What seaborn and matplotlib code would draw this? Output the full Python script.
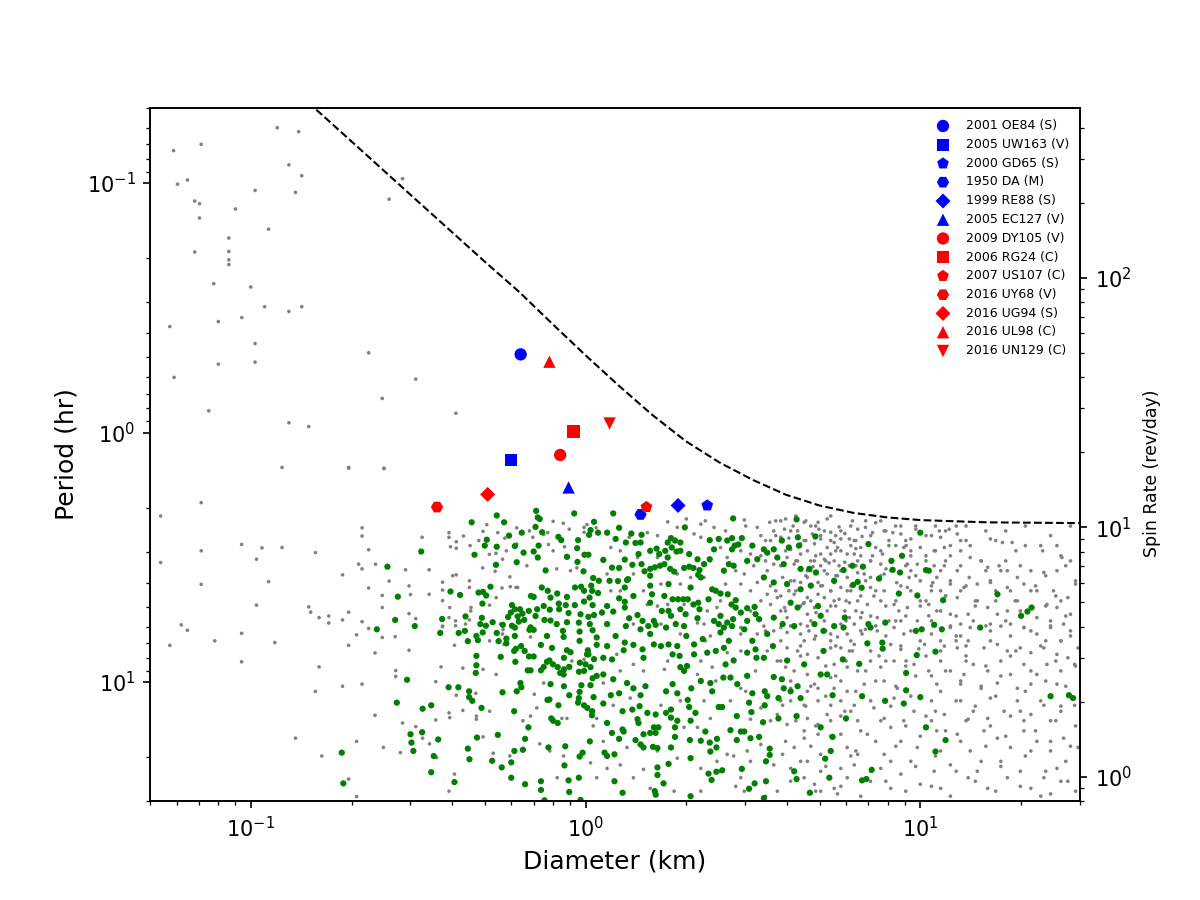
import matplotlib
matplotlib.use("Agg")
import matplotlib.pyplot as plt
import seaborn as sns

# ---------------- data (diameter km, period hr) ----------------
# spin-barrier curve
barrier_d = [0.157, 0.1995, 0.251, 0.316, 0.398, 0.501, 0.631, 0.794, 1.0, 1.259, 1.585,
             1.995, 2.512, 3.162, 3.981, 5.012, 6.31, 7.943, 10.0, 15.85, 30.0]
barrier_p = [0.0508, 0.0679, 0.0897, 0.1186, 0.1567, 0.207, 0.2716, 0.3656, 0.49, 0.650, 0.851,
             1.084, 1.318, 1.549, 1.778, 1.963, 2.099, 2.188, 2.244, 2.291, 2.307]

# highlighted objects
obj_names = ["2001 OE84 (S)", "2005 UW163 (V)", "2000 GD65 (S)", "1950 DA (M)", "1999 RE88 (S)",
             "2005 EC127 (V)", "2009 DY105 (V)", "2006 RG24 (C)", "2007 US107 (C)", "2016 UY68 (V)",
             "2016 UG94 (S)", "2016 UL98 (C)", "2016 UN129 (C)"]
obj_diam = [0.64, 0.60, 2.31, 1.46, 1.89, 0.89, 0.84, 0.92, 1.52, 0.36, 0.51, 0.78, 1.18]
obj_period = [0.486, 1.29, 1.96, 2.13, 1.96, 1.66, 1.23, 0.99, 1.99, 1.99, 1.77, 0.52, 0.92]
obj_color = ["b", "b", "b", "b", "b", "b", "r", "r", "r", "r", "r", "r", "r"]
obj_marker = ["o", "s", "p", "H", "D", "^", "o", "s", "p", "H", "D", "^", "v"]

# green population
green_a = [(0.323,3.0),(0.256,3.45),(0.275,4.55),(0.27,5.64),(0.238,6.15),(0.309,5.97),(0.373,5.59),
    (0.368,6.36),(0.395,4.34),(0.293,9.8),(0.39,10.5),(0.273,12.1),(0.326,12.8),(0.346,12.4),(0.325,15.9),
    (0.30,16.2),(0.302,17.5),(0.306,18.9),(0.363,17.0),(0.352,19.8),(0.346,23.0),(0.187,19.2),(0.189,25.5)]
green_b = [(0.543,2.15),(0.571,2.29),(0.457,2.29),(0.712,2.06),(0.72,2.19),(0.73,2.22),(0.925,2.11),
    (1.06,2.28),(0.507,2.69),(0.5,2.84),(0.543,2.87),(0.591,2.59),(0.645,2.52),(0.615,2.85),(0.709,2.39),
    (0.742,2.51),(0.83,2.62),(0.846,2.7),(0.95,2.7),(1.035,2.46),(1.025,2.57),(1.09,2.52),(0.466,3.09),
    (0.54,3.39),(0.623,3.31),(0.653,3.03),(0.70,3.0),(0.724,2.84),(0.72,3.17),(0.944,2.91),(0.993,3.09),
    (1.02,3.09),(0.88,3.15),(0.946,3.3),(0.76,3.57),(0.986,3.6),(1.054,3.83),(1.096,3.93),(0.52,4.15),
    (0.494,4.35),(0.479,4.38),(0.505,4.5),(0.492,4.85),(0.422,4.48),(0.74,4.18),(0.687,4.52),
    (0.70,4.56),(0.771,4.31),(0.823,4.42),(0.88,4.56),(0.93,4.18),(0.97,4.15),(0.99,4.31),(1.04,4.11),
    (1.047,4.31),(1.028,4.59),(1.09,4.4),(0.786,4.59),(0.832,4.85),(0.75,4.96),(0.873,4.92),(0.929,4.92),
    (0.99,4.76),(1.05,4.92),(0.603,4.92),(0.615,5.11),(0.598,5.27),(0.637,5.11),(0.648,5.32),(0.677,5.19),
    (0.717,5.11),(0.782,5.13),(0.834,5.11),(0.89,5.29),(0.966,5.35),(1.02,5.48),(1.06,5.39),(0.438,5.46),
    (0.49,5.53),(0.528,5.76),(0.485,5.86),(0.504,5.95),(0.587,5.49),(0.627,5.46),(0.656,5.64),(0.709,5.44),
    (0.754,5.64),(0.786,5.67),(0.82,5.86),(0.88,5.76),(0.955,5.78),(1.03,5.86),(0.632,5.73),(0.603,5.95),
    (0.685,6.04)]
green_c = [(0.418,6.36),(0.436,6.24),(0.445,6.86),(0.472,6.54),(0.477,6.8),(0.493,6.33),(0.543,6.36),
    (0.55,6.86),(0.566,5.9),(0.58,6.7),(0.58,7.0),(0.615,6.54),(0.615,6.05),(0.62,7.36),(0.612,7.51),
    (0.642,7.18),(0.658,7.51),(0.68,6.18),(0.70,6.18),(0.678,7.9),(0.70,7.9),(0.736,7.1),(0.767,6.54),
    (0.794,7.3),(0.856,6.24),(0.86,6.6),(0.862,8.0),(0.902,7.6),(0.88,7.46),(0.96,6.28),(0.96,6.84),
    (1.016,7.46),(1.01,7.75),(1.05,6.2),(1.08,6.63),(1.08,7.1),(0.472,7.86),(0.472,8.57),(0.47,9.2),
    (0.558,7.93),(0.617,8.3),(0.672,8.98),(0.685,8.98),(0.736,8.98),(0.75,8.7),(0.767,8.3),(0.78,8.2),
    (0.8,8.5),(0.826,8.72),(0.84,9.2),(0.86,9.33),(0.862,8.9),(0.894,8.7),(0.962,8.37),(0.956,9.1),
    (0.99,9.03),(1.0,8.5),(1.035,8.72),(1.08,9.45),(1.02,7.75),(1.06,8.1),(0.786,10.2),(0.862,10.4),
    (0.972,10.3),(1.035,10.3),(1.05,9.66),(0.639,10.1),(0.643,10.5),(0.623,10.9),(0.565,11.0),(0.417,10.5),
    (0.449,10.9),(0.449,11.5),(0.459,11.9),(0.489,12.7),(0.612,13.1),(0.675,15.2),(0.66,16.9),(0.613,18.9),
    (0.65,18.7),(0.60,21.0),(0.60,24.2),(0.66,25.7),(0.736,25.0),(0.736,27.1),(0.775,18.3),(0.562,22.0),
    (0.526,20.7),(0.547,16.3),(0.474,16.7),(0.445,18.5),(0.45,20.4),(0.406,25.2),(0.78,11.75),(0.79,14.0),
    (0.80,14.3),(0.826,14.6),(0.77,11.8),(0.83,12.4),(0.894,11.3),(0.96,10.95),(0.955,11.6),(0.95,12.1),
    (0.99,12.4),(1.012,12.7),(1.047,13.1),(1.045,13.6),(1.057,11.5),(1.03,17.3),(0.87,18.1),(0.98,19.2),
    (0.96,19.9),(0.865,21.6),(0.955,24.2),(0.89,24.8),(0.894,27.6),(0.966,29.7),(0.754,29.8)]
green_d = [(1.21,2.11),(2.76,2.21),(4.27,2.23),(1.16,2.52),(1.23,2.67),(1.26,2.41),(1.32,2.76),(1.37,2.54),
    (1.41,2.77),(1.47,2.57),(1.46,2.76),(1.44,3.07),(1.31,3.23),(1.13,3.24),(1.2,3.48),(1.26,3.49),(1.18,3.93),
    (1.25,3.94),(1.31,4.18),(1.34,3.87),(1.38,3.39),(1.47,3.37),(1.5,3.6),(1.56,3.75),(1.56,3.52),(1.61,3.47),
    (1.67,3.42),(1.56,2.98),(1.63,2.92),(1.66,3.07),(1.73,2.98),(1.76,2.76),(1.8,2.65),(1.85,2.71),(1.81,2.89),
    (1.87,3.0),(1.92,2.76),(1.92,2.98),(1.98,2.4),(2.04,3.07),(1.76,3.17),(1.72,3.37),(1.79,3.52),(1.84,3.61),
    (1.97,3.49),(2.04,3.45),(2.16,3.22),(2.1,3.49),(2.19,3.56),(2.26,3.37),(2.35,2.7),(2.42,2.94),(2.35,3.22),
    (2.21,3.81),(2.17,3.72),(2.06,4.18),(1.77,4.05),(1.72,4.52),(1.82,4.66),(1.89,4.66),(1.96,4.66),(2.02,4.66),
    (1.58,4.45),(1.56,4.11),(1.39,4.52),(1.33,3.9),(1.26,4.62),(1.16,4.96),(1.21,5.22),(1.31,4.77),(1.31,5.03),
    (1.35,5.55),(1.43,5.39),(1.48,5.69),(1.54,5.97),(1.6,5.69),(1.69,5.19),(1.77,5.19),(1.8,5.43),(1.92,5.11),
    (1.99,5.35),(2.1,4.89),(2.17,4.81),(2.19,5.11),(2.16,5.55),(1.97,5.97),(1.86,5.86),(1.74,6.05),(2.33,4.66),
    (2.39,4.25),(2.45,4.31),(2.53,4.42),(2.66,4.45),(2.81,4.7),(2.73,4.89),(2.81,5.03),(2.91,5.27),(3.04,5.06),
    (3.2,5.0),(3.22,5.35),(3.3,5.6),(3.04,5.69),(2.76,5.6),(2.53,5.43),(2.65,5.78),(2.59,6.05),(2.42,5.69),
    (2.5,2.67),(2.65,2.71),(2.74,2.65),(2.79,2.84),(2.86,2.81),(2.93,2.65),(2.74,2.94),(3.04,3.27),(3.15,2.84),
    (3.26,3.22),(3.41,2.94),(3.49,3.03),(3.65,2.94),(3.74,3.17),(3.86,2.71),(3.91,3.37),(4.05,2.89),(4.31,2.63),
    (4.34,2.84),(4.86,2.61),(2.68,3.37),(2.59,3.58),(2.77,3.42),(3.41,3.81),(3.65,3.99),(4.0,4.05),(4.39,4.25),
    (4.39,3.52),(4.66,3.52),(4.71,4.11),(4.88,3.64),(5.53,3.93),(5.9,3.56),(4.1,4.81),(4.3,5.03),(4.95,4.96),
    (5.04,5.43),(3.65,5.52),(3.88,5.86),(4.2,5.97),(4.83,5.86),(5.53,5.97),(5.95,5.52),(1.56,4.81),(1.46,6.15),
    (1.32,5.97),(1.16,5.86),(1.12,5.27)]
green_e = [(1.62,5.9),(2.0,6.54),(2.24,6.73),(2.5,5.86),(2.53,6.33),(2.74,5.97),(2.98,6.15),(3.15,6.84),
    (3.49,6.42),(3.63,7.18),(5.14,6.24),(5.9,6.05),(1.16,7.18),(1.23,6.54),(1.31,6.95),(1.3,7.46),(1.13,8.0),
    (1.2,8.12),(1.39,7.1),(1.48,7.4),(1.49,8.0),(1.56,6.42),(1.6,7.07),(1.68,7.18),(1.77,7.07),(1.82,7.75),
    (1.91,7.86),(1.88,7.18),(2.11,7.07),(2.11,7.75),(2.01,8.63),(1.92,8.72),(1.97,9.03),(2.31,7.63),(2.45,7.51),
    (2.59,7.3),(2.68,6.84),(2.62,8.5),(2.77,8.2),(3.04,7.63),(3.22,7.4),(3.24,8.0),(3.41,8.0),(3.65,9.55),
    (3.86,9.75),(4.0,8.2),(4.5,8.5),(5.04,9.33),(5.27,9.33),(5.14,7.51),(5.87,8.12),(1.13,9.33),(1.21,9.75),
    (1.33,10.1),(1.39,10.6),(1.51,10.4),(1.46,11.3),(1.26,11.1),(1.19,11.3),(1.13,12.2),(1.74,10.9),(1.82,10.2),
    (1.88,11.1),(2.07,10.6),(2.21,9.91),(2.36,10.1),(2.39,10.9),(2.58,9.6),(2.71,9.6),(2.84,10.2),(3.04,9.45),
    (3.15,11.1),(3.08,12.1),(3.43,10.9),(3.49,11.4),(3.77,11.6),(3.91,10.6),(4.1,10.9),(4.39,11.6),(4.3,10.4),
    (5.47,11.3),(2.02,11.8),(2.04,12.6),(2.13,13.3),(2.06,14.3),(1.88,14.3),(1.74,13.3),(1.8,12.9),(1.8,13.9),
    (1.62,13.5),(1.53,13.3),(1.45,12.5),(1.38,12.9),(1.29,13.1),(1.43,14.1),(1.44,14.6),(1.16,14.6),(1.2,16.0),
    (1.29,15.5),(1.3,15.8),(1.26,16.9),(1.41,17.1),(1.49,16.2),(1.56,16.0),(1.6,15.2),(1.62,16.0),(1.65,15.2),
    (1.46,17.8),(1.49,18.3),(1.59,18.2),(1.64,18.4),(1.8,18.3),(1.85,15.2),(1.85,16.6),(2.05,17.1),(2.21,17.2),
    (2.28,15.8),(2.35,17.5),(2.46,18.3),(2.47,16.9),(2.36,19.0),(2.5,12.6),(2.56,12.6),(2.71,15.6),(2.83,17.1),
    (2.91,15.8),(2.98,15.8),(3.11,16.8),(3.3,16.6),(2.83,13.7),(3.13,13.2),(3.39,14.5),(3.43,12.4),(3.77,14.0),
    (3.55,18.5),(3.55,19.6),(3.46,20.8),(4.27,13.7),(4.2,22.8),(4.27,24.5),(2.93,22.3),(2.56,22.6),(2.46,22.9),
    (2.33,23.3),(2.38,24.7),(2.06,20.2),(1.77,21.3),(1.64,22.0),(1.64,23.6),(1.71,25.5),(1.61,27.4),(1.62,28.3),
    (2.06,28.7),(1.22,25.0),(1.29,27.8),(3.08,26.8),(3.2,25.5),(3.46,25.0),(3.41,29.2),(4.68,27.8),(5.35,24.2),
    (5.4,18.9),(5.2,20.3),(5.47,16.6),(6.0,14.0),(5.04,15.2),(1.14,19.2),(1.16,19.8),(1.22,19.5)]
green_f = [(10.0,2.52),(7.0,2.8),(8.82,3.12),(8.2,3.27),(6.27,3.42),(6.74,3.45),(8.27,3.55),(8.7,3.64),
    (10.4,3.56),(10.6,3.58),(7.53,3.85),(6.5,3.97),(6.3,4.08),(6.68,4.19),(8.63,4.42),(9.8,4.5),(11.7,4.7),
    (17.0,4.45),(21.5,5.03),(20.9,5.22),(20.0,5.43),(7.86,5.78),(7.0,5.86),(7.1,6.05),(9.7,6.24),(10.1,6.15),
    (11.0,5.9),(11.6,6.15),(15.1,6.05),(6.95,7.0),(7.7,6.95),(7.72,7.35),(6.57,8.46),(9.76,7.8),(11.1,7.56),
    (9.07,9.2),(9.07,10.8),(10.0,11.5),(8.93,12.2),(7.85,11.9),(6.7,11.4),(10.4,15.2),(11.9,17.1),(11.1,19.0),
    (7.16,22.5),(6.7,24.8),(6.9,24.5),(24.5,11.4),(27.8,11.3),(28.6,11.6)]

# grey population
gray_a = [(0.12,0.060),(0.139,0.0622),(0.0711,0.0699),(0.0588,0.0741),(0.130,0.0845),(0.142,0.0934),
    (0.0647,0.0972),(0.0604,0.101),(0.103,0.107),(0.136,0.109),(0.284,0.096),(0.259,0.116),(0.068,0.118),
    (0.0703,0.121),(0.090,0.127),(0.0703,0.138),(0.113,0.153),(0.086,0.166),(0.068,0.189),(0.086,0.188),
    (0.086,0.203),(0.086,0.212),(0.0775,0.253),(0.1,0.261),(0.110,0.313),(0.130,0.327),(0.142,0.313),
    (0.0573,0.376),(0.080,0.359),(0.094,0.346),(0.103,0.44),(0.103,0.522),(0.080,0.532),(0.225,0.479),
    (0.311,0.611),(0.0590,0.601),(0.247,0.73),(0.0749,0.818),(0.13,0.914),(0.149,0.946),(0.41,0.837),
    (0.196,1.39),(0.25,1.395)]
gray_b = [(0.124,1.38),(0.196,1.38),(0.25,1.39),(0.0711,1.91),(0.0538,2.16),(0.0711,2.98),(0.0538,3.32),
    (0.0711,4.06),(0.0939,2.81),(0.108,2.9),(0.124,2.89),(0.104,3.22),(0.156,3.03),(0.113,3.96),(0.104,4.92),
    (0.0620,5.9),(0.0647,6.2),(0.0573,7.13),(0.0781,6.84),(0.0939,6.38),(0.118,6.95),(0.0939,8.3),(0.149,5.0),
    (0.151,5.25),(0.16,5.52),(0.171,5.44),(0.171,5.8),(0.188,5.64),(0.196,5.25),(0.225,2.95),(0.21,3.37),
    (0.215,3.52),(0.236,3.37),(0.188,3.72),(0.259,3.94),(0.29,3.55),(0.325,2.63),(0.341,3.55),(0.391,2.52),
    (0.225,4.2),(0.247,4.5),(0.297,4.12),(0.30,4.46),(0.341,4.45),(0.374,3.98),(0.374,4.28),(0.374,4.72),
    (0.247,5.03),(0.297,5.32),(0.311,5.57),(0.215,5.73),(0.225,6.1),(0.207,6.47),(0.247,6.63),(0.27,6.58),
    (0.374,5.97),(0.196,7.13),(0.235,7.65),(0.297,7.46),(0.16,8.7),(0.156,10.9),(0.188,10.4),(0.215,10.2),
    (0.271,9.0),(0.271,9.5),(0.37,8.7),(0.357,9.97),(0.235,13.6),(0.284,14.6),(0.311,15.1),(0.357,14.2),
    (0.326,16.8),(0.342,17.7),(0.249,18.3),(0.28,19.2),(0.207,17.3),(0.136,16.8),(0.163,19.8),(0.196,24.5),
    (0.207,28.8),(0.359,20.1),(0.391,13.3),(0.391,27.4)]
gray_c = [(0.215,2.41),(0.215,2.6),(0.391,2.63),(0.395,2.87),(0.411,2.74),(0.411,2.91),(0.432,2.6),
    (0.452,2.84),(0.48,2.71),(0.494,2.49),(0.507,2.34),(0.547,2.52),(0.574,2.65),(0.623,2.41),(0.623,2.8),
    (0.68,2.48),(0.696,2.63),(0.75,2.56),(0.771,2.52),(0.80,2.27),(0.858,2.31),(0.894,2.44),(0.99,2.4),
    (0.99,2.51),(1.01,2.34),(1.076,2.41),(0.865,2.87),(0.80,2.98),(0.775,2.81),(0.58,2.98),(0.516,3.08),
    (0.54,3.05),(0.565,3.22),(0.668,3.42),(0.493,3.49),(0.537,3.6),(0.594,3.79),(0.627,4.18),(0.82,3.52),
    (0.902,3.58),(0.942,3.49),(0.401,3.75),(0.411,3.72),(0.45,3.93),(0.45,4.18),(0.541,4.59),(0.563,4.2),
    (0.596,4.15),(0.62,4.18),(0.517,4.92),(0.455,5.03),(0.391,5.52),(0.409,5.69),(0.374,6.0),(0.409,5.95),
    (0.438,5.86),(0.45,5.64),(0.454,5.19),(0.393,5.03),(0.557,5.86),(0.567,6.17),
    (0.406,7.13),(0.43,8.8),(0.47,8.63),(0.494,8.9),(0.541,9.33),(0.47,11.1),(0.411,11.3),(0.43,13.0),
    (0.472,13.7),(0.472,14.1),(0.517,13.1),(0.393,13.9),(0.53,19.3),(0.594,19.8),(0.65,14.3),(0.685,13.7),
    (0.715,12.7),(0.782,18.9),(0.86,19.8),(0.88,14.0),(0.85,14.0),(0.73,17.7),(0.823,24.2),(1.054,15.0),
    (1.08,14.0),(1.035,21.1),(1.08,24.2),(0.703,11.2),(0.75,10.1),(0.99,8.12),(0.91,8.24),(0.685,6.6),
    (0.571,7.07),(0.565,6.42),(0.517,6.84),(0.406,23.4),(0.494,16.6)]
gray_d = [(1.76,2.28),(2.0,2.22),(2.21,2.33),(2.42,2.4),(2.98,2.24),(3.26,2.4),(3.55,2.29),(3.7,2.26),
    (3.93,2.44),(3.65,2.48),(3.34,2.59),(4.5,2.29),(4.71,2.37),(4.95,2.29),(5.17,2.48),(5.4,2.51),(5.59,2.59),
    (5.95,2.54),(6.14,2.67),(5.53,2.76),(5.27,2.89),(5.79,2.98),(6.05,3.07),(5.04,3.07),(5.53,3.27),(5.95,3.31),
    (5.04,3.42),(4.6,2.98),(4.71,3.27),(4.5,2.71),(4.83,2.79),(4.05,2.65),(3.83,2.63),(4.0,3.17),(4.2,3.37),
    (3.65,3.37),(3.49,3.58),(3.18,3.42),(2.98,3.69),(3.26,3.99),(3.88,3.81),(4.2,3.93),(4.6,3.81),(4.95,3.99),
    (5.27,3.69),(6.05,3.81),(5.79,4.18),(5.4,4.31),(4.95,4.45),(4.6,4.59),(5.53,4.73),(6.14,4.81),(5.95,5.19),
    (5.27,5.19),(4.6,5.35),(3.93,5.03),(3.57,4.89),(3.49,4.45),(3.74,4.59),(3.11,4.31),(2.91,4.05),(2.62,4.05),
    (2.47,5.03),(2.31,5.19),(1.97,4.89),(1.76,4.89),(1.64,4.96),(1.53,4.89),(1.27,4.31),(1.19,4.31),(1.49,4.31),
    (1.68,4.05),(1.92,4.05),(1.88,3.69),(1.64,3.17),(1.43,3.17),(1.27,2.98),(1.19,2.89),(1.35,2.63),(1.53,2.52),
    (1.64,2.59),(1.88,2.4),(2.11,2.55),(2.21,2.63),(2.53,2.89),(2.91,2.98),(3.11,3.07),(2.65,3.17),(2.26,3.81),
    (2.06,3.81),(1.39,3.69),(1.16,3.69),(1.12,5.19),(1.39,5.86),(1.68,5.86),(2.26,5.86),(2.91,6.05),(3.41,5.97),
    (4.0,5.52),(4.39,5.86),(5.17,5.69),(5.79,5.86),(6.14,5.52),(4.76,2.55),(5.04,2.67),(5.4,2.71),(5.79,2.67),
    (5.66,2.89),(5.4,3.07),(5.17,3.22),(5.72,3.42),(6.14,3.42),(5.17,3.58),(5.53,3.99),(6.05,4.31),(5.17,4.59),
    (5.4,4.96),(4.83,5.03),(4.5,4.81),(4.2,4.45),(4.39,3.99),(4.6,3.58),(4.83,3.27),(4.39,3.07),(4.3,2.48),
    (4.39,2.79)]
gray_e = [(2.16,5.8),(2.36,6.54),(2.39,8.72),(2.65,7.63),(2.91,6.42),(3.26,6.42),(3.65,6.24),(3.83,6.05),
    (4.0,6.33),(4.2,6.05),(4.39,6.42),(4.6,5.97),(4.5,6.84),(4.83,6.73),(5.4,6.42),(5.66,6.6),(6.05,6.42),
    (4.0,7.3),(4.3,7.51),(4.6,7.75),(4.95,8.0),(5.4,7.3),(5.79,7.3),(6.14,7.51),(5.53,8.5),(6.05,8.72),(5.4,9.6),
    (5.79,9.91),(6.05,10.9),(5.53,10.6),(4.95,10.6),(4.6,10.9),(4.6,9.33),(4.2,9.03),(3.96,8.72),(3.74,8.24),
    (3.49,7.51),(3.88,12.4),(4.1,11.9),(4.5,12.4),(4.95,11.9),(5.4,12.4),(5.79,11.9),(5.95,13.1),(5.27,13.5),
    (4.6,14.0),(4.0,14.8),(4.5,15.7),(4.95,16.2),(4.5,16.8),(5.79,16.2),(6.05,18.3),(4.2,18.3),(4.6,20.8),
    (5.04,22.8),(5.79,22.2),(6.05,24.2),(5.53,26.7),(5.04,27.4),(5.66,28.1),(3.88,19.5),(3.65,21.5),(3.74,27.4),
    (2.98,27.4),(2.77,19.8),(2.65,19.5),(2.47,20.8),(2.21,22.2),(2.21,27.4),(2.91,24.2),(1.84,27.4),(1.56,26.7),
    (1.39,24.2),(1.49,22.4),(1.27,21.5),(1.16,22.2),(1.13,17.3),(1.33,18.3),(1.64,18.9),(1.88,20.2),(1.97,15.2),
    (2.16,15.2),(2.36,14.0),(2.26,11.9),(1.92,11.9),(1.68,12.4),(1.36,11.6),(1.21,12.4),(1.13,10.1),(1.27,9.03),
    (1.49,9.03),(1.72,8.9),(1.76,8.24),(1.39,8.5),(1.24,7.75),(1.92,6.42),(2.21,8.24),(2.16,9.33),(2.91,10.6),
    (3.34,12.7),(3.74,13.5),(3.11,14.1),(3.34,17.8),(3.04,18.9),(4.1,22.2),(4.5,24.2),(4.83,25.7),(5.04,19.5),
    (5.4,14.3),(4.95,14.8),(4.1,10.6),(4.83,10.2)]
gray_f = [(6.5,2.44),(6.86,2.4),(7.2,2.52),(7.8,2.48),(8.28,2.52),(8.75,2.55),(9.37,2.67),(10.8,2.59),
    (11.5,2.63),(12.2,2.44),(12.9,2.55),(13.7,2.71),(16.2,2.67),(17.6,2.76),(18.8,2.76),(20.6,2.84),(23.2,2.98),
    (25.6,2.84),(26.5,3.17),(6.35,2.71),(6.64,2.89),(6.35,3.07),(7.36,2.89),(7.71,3.07),(8.06,2.84),(8.93,2.89),
    (9.37,2.98),(10.0,2.89),(11.0,2.98),(11.8,2.89),(12.3,3.12),(13.2,2.98),(14.1,3.17),(15.2,3.27),(15.9,3.47),
    (17.2,3.42),(18.2,3.58),(19.5,3.81),(21.4,3.58),(23.4,3.64),(25.6,3.58),(28.1,3.27),(29.1,4.05),(6.5,3.27),
    (7.1,3.27),(7.62,3.37),(9.15,3.37),(9.8,3.37),(11.0,3.42),(11.8,3.42),(12.9,3.58),(14.0,3.81),(14.8,4.05),
    (16.2,3.99),(18.2,4.18),(20.4,4.05),(22.3,4.31),(25.0,4.31),(27.6,4.59),(6.8,3.69),(7.1,3.81),(7.8,3.69),
    (9.26,3.81),(10.0,3.93),(11.2,3.81),(12.3,4.05),(13.5,4.18),(7.1,4.18),(7.8,4.31),(9.15,4.18),(10.8,4.31),
    (11.5,4.31),(12.9,4.59),(14.8,4.73),(15.9,5.03),(18.2,5.19),(19.5,4.73),(23.9,4.89),(25.6,5.03),(28.1,5.35),
    (6.5,4.73),(6.95,4.89),(7.62,4.73),(8.35,4.89),(9.15,5.03),(10.6,4.89),(11.2,5.19),(12.3,5.35),(13.9,5.35),
    (17.0,5.35),(22.3,5.52),(24.5,5.69),(26.8,5.86),(6.64,5.52),(7.44,5.52),(8.75,5.69),(9.8,5.69),(13.2,5.86),
    (14.4,5.69),(16.2,5.86),(18.6,5.86),(20.4,6.05)]
gray_g = [(6.35,5.86),(6.7,6.42),(7.44,6.24),(8.35,6.05),(8.93,6.42),(10.8,6.42),(12.3,6.05),(13.2,6.54),
    (14.1,6.05),(16.2,6.24),(17.4,5.97),(18.6,6.54),(20.4,6.05),(22.3,6.42),(24.5,6.05),(26.3,6.84),(28.1,6.24),
    (29.6,7.3),(6.35,7.07),(8.16,7.07),(8.75,7.4),(10.3,7.07),(11.8,7.18),(12.9,7.3),(13.9,6.84),(15.5,7.3),
    (17.0,7.07),(18.2,7.51),(19.9,7.3),(21.4,7.63),(23.4,7.3),(25.6,7.75),(27.6,8.0),(6.5,9.03),(7.1,8.24),
    (7.62,8.72),(8.35,8.24),(9.58,8.5),(10.6,9.03),(11.5,8.24),(12.3,9.03),(13.5,9.33),(14.4,8.5),(15.9,9.03),
    (17.4,8.24),(18.6,9.33),(20.4,8.5),(22.3,9.33),(23.9,8.5),(26.3,9.03),(28.9,8.5),(6.8,10.2),(7.8,9.91),
    (8.54,10.6),(11.2,10.2),(13.2,10.2),(15.2,10.6),(17.0,10.1),(19.5,10.6),(21.4,10.2),(25.6,10.2),(6.35,12.4),
    (7.27,12.7),(8.35,11.6),(9.58,13.1),(10.8,11.9),(11.8,13.5),(13.2,11.9),(14.4,13.1),(16.2,11.6),(17.8,13.1),
    (19.5,11.9),(21.4,13.5),(23.4,12.4),(26.3,13.1),(28.9,12.4),(6.5,14.3),(7.8,14.0),(8.93,14.3),(10.8,14.3),
    (13.9,14.1),(15.9,14.0),(20.4,14.3),(24.5,14.3),(6.95,16.2),(8.16,15.2),(8.75,17.3),(9.8,18.3),(11.2,15.7),
    (12.9,16.2),(14.1,18.9),(15.5,15.7),(17.0,16.8),(18.6,18.3),(20.4,15.7),(22.3,17.3),(24.5,18.9),(26.8,16.8),
    (29.6,18.3),(6.5,19.5),(7.8,19.5),(9.37,20.8),(11.0,22.8),(12.3,21.5),(13.9,24.2),(14.8,22.8),(17.4,20.8),
    (18.2,24.2),(19.9,22.8),(21.4,26.7),(23.4,24.2),(25.6,22.2),(27.6,25.0),(24.5,28.1),(15.9,26.7),(11.5,26.7),
    (10.0,25.7),(8.16,26.7),(7.1,25.0),(6.35,21.5),(7.62,22.2),(8.75,23.4)]
gray_h = [(3.96,2.22),(4.17,2.37),(4.55,2.26),(4.98,2.44),(5.27,2.22),(5.72,2.39),(6.27,2.26),(6.7,2.61),
    (7.36,2.3),(8.06,2.71),(8.44,2.37),(9.07,2.84),(9.7,2.44),(10.4,3.12),(11.4,2.48),(11.9,3.27),(4.1,2.94),
    (4.3,3.27),(4.78,3.45),(5.34,3.33),(5.66,3.75),(6.42,2.92),(6.5,3.65),(7.2,3.12),(7.9,3.52),(8.5,4.0),
    (9.37,3.58),(10.0,4.73),(10.9,4.0),(11.9,4.52),(4.05,4.31),(4.47,4.85),(4.88,5.27),(5.1,4.11),(5.72,4.66),
    (6.2,4.31),(6.7,5.27),(7.27,4.52),(8.06,5.69),(8.63,5.19),(9.37,6.24),(10.6,5.43),(11.5,6.84),(3.57,2.71),
    (3.45,3.27),(3.7,4.31),(3.34,4.73),(3.83,5.19),(4.65,6.24),(5.4,6.84),(6.27,7.51),(6.86,6.15),(7.53,7.86),
    (9.07,8.24),(9.9,7.36),(10.8,9.45),(12.8,6.84),(13.7,7.86),(14.6,4.73),(15.7,3.58),(16.8,4.31),(18.0,3.27),
    (19.2,4.73),(21.4,4.31),(23.7,6.84),(26.3,4.73)]
# denser core of the grey cloud (about 4-13 km, 2.2-7.5 hr)
gray_i = [(3.83,2.26),(4.25,2.16),(4.87,2.37),(5.40,2.16),(6.20,2.37),(6.87,2.26),(7.62,2.26),(8.75,2.37),
    (9.69,2.37),(11.1,2.37),(12.8,2.37),
    (3.70,2.59),(4.10,2.48),(4.55,2.71),(5.04,2.59),(5.79,2.48),(6.42,2.71),(7.11,2.59),(7.89,2.48),(9.05,2.71),
    (10.4,2.59),(11.9,2.48),(13.2,2.71),
    (3.96,2.98),(4.39,2.84),(4.87,3.12),(5.59,2.98),(6.20,2.84),(6.64,3.12),(7.62,2.98),(8.45,2.84),(9.37,3.12),
    (11.1,2.98),(12.3,2.84),
    (3.83,3.42),(4.25,3.27),(4.71,3.58),(5.22,3.27),(5.79,3.58),(6.42,3.42),(7.11,3.27),(8.16,3.58),(9.05,3.42),
    (10.4,3.27),(11.5,3.58),(13.2,3.42),
    (4.10,3.93),(4.55,3.75),(5.04,4.12),(5.59,3.75),(6.20,4.12),(6.87,3.93),(7.62,3.75),(8.75,4.12),(9.69,3.75),
    (10.8,4.12),(12.3,3.93),
    (3.83,4.52),(4.25,4.31),(4.71,4.73),(5.40,4.31),(6.0,4.73),(6.64,4.52),(7.36,4.31),(8.45,4.73),(9.37,4.31),
    (10.4,4.73),(11.9,4.52),(13.2,4.31),
    (3.96,5.19),(4.39,4.96),(5.04,5.44),(5.59,4.96),(6.42,5.19),(7.11,5.44),(7.89,4.96),(9.05,5.44),(10.0,4.96),
    (11.5,5.19),(12.8,5.44),
    (4.10,5.96),(4.71,5.69),(5.22,6.24),(6.0,5.69),(6.64,6.24),(7.36,5.96),(8.45,5.69),(9.69,6.24),(10.8,5.69),
    (12.3,5.96),
    (3.83,6.84),(4.39,7.17),(4.87,6.54),(5.59,7.17),(6.20,6.84),(7.11,7.51),(7.89,6.54),(8.75,7.17),(10.0,6.84),
    (11.5,7.51),(12.8,6.54)]
# right side of the grey cloud (13-30 km, 2.3-7.5 hr)
gray_j = [(13.7,2.37),(15.7,2.48),(18.0,2.48),(20.6,2.37),(24.5,2.59),(28.1,2.37),
    (14.1,2.84),(16.8,2.71),(19.3,2.98),(22.9,2.84),(26.3,3.12),
    (15.2,3.27),(17.4,3.58),(19.9,3.42),(23.7,3.75),(27.2,3.42),
    (13.7,4.12),(16.2,3.93),(18.6,4.31),(22.1,4.12),(25.4,4.52),(29.1,3.93),
    (14.6,4.96),(16.8,4.73),(19.9,5.19),(23.7,4.96),(27.2,5.44),
    (15.7,5.96),(18.0,5.69),(21.4,6.24),(24.5,5.96),(28.1,6.54),
    (13.7,7.17),(16.2,6.84),(19.3,7.51),(22.9,7.17),(26.3,6.84)]
# lower part of the grey cloud (4-30 km, 8-29 hr)
gray_k = [(3.83,8.24),(4.39,7.87),(5.22,8.63),(6.0,8.24),(6.87,9.03),(7.89,8.24),(9.05,8.63),(10.4,7.87),
    (11.9,9.03),(13.7,8.24),(15.7,8.63),(18.6,7.87),(21.4,9.03),(25.4,8.24),(29.1,8.63),
    (4.10,9.91),(4.71,10.4),(5.59,9.46),(6.42,10.9),(7.36,9.91),(8.45,10.4),(9.69,9.46),(11.5,10.9),(13.2,9.91),
    (15.2,10.4),(17.4,9.46),(20.6,10.9),(23.7,9.91),(27.2,10.4),
    (3.83,11.9),(4.55,12.5),(5.22,11.4),(6.20,13.1),(7.11,11.9),(8.16,12.5),(9.37,11.4),(11.1,13.1),(12.8,11.9),
    (14.6,12.5),(16.8,11.4),(19.9,13.1),(22.9,11.9),(26.3,12.5),
    (4.25,14.3),(4.87,15.0),(5.79,13.7),(6.64,15.7),(7.62,14.3),(9.05,15.0),(10.4,13.7),(11.9,15.7),(13.7,14.3),
    (16.2,15.0),(18.6,13.7),(22.1,15.7),(25.4,14.3),(29.1,15.0),
    (3.96,17.3),(4.71,18.1),(5.40,16.5),(6.42,18.9),(7.36,17.3),(8.45,18.1),(10.0,16.5),(11.5,18.9),(13.2,17.3),
    (15.7,18.1),(18.0,16.5),(21.4,18.9),(24.5,17.3),(28.1,18.1),
    (4.39,20.8),(5.22,21.8),(6.20,19.8),(7.11,22.8),(8.16,20.8),(9.69,21.8),(11.1,19.8),(12.8,22.8),(15.2,20.8),
    (17.4,21.8),(20.6,19.8),(23.7,22.8),(27.2,20.8),
    (4.10,25.0),(4.87,27.4),(5.79,26.2),(6.64,28.7),(7.89,25.0),(9.05,27.4),(10.8,26.2),(12.3,28.7),(14.6,25.0),
    (16.8,27.4),(19.9,26.2),(22.9,28.7),(26.3,25.0),(29.1,27.4)]
# transition zone (2-3.6 km)
gray_l = [(2.28,2.26),(2.62,2.48),(3.01,2.37),(3.45,2.71),(2.36,3.27),(2.81,3.58),(3.34,3.12),(2.53,4.73),
    (3.11,5.19),(3.57,4.12),(2.28,6.84),(2.91,7.51),(3.45,6.24),(2.45,9.91),(3.22,9.03),(2.71,11.9),(3.57,14.3),
    (2.36,17.3),(3.11,20.8),(2.81,26.2),(3.45,28.7),(2.53,22.8),(3.01,10.9)]

# ---------------- plotting ----------------
fig, ax = plt.subplots(figsize=(8, 6), dpi=150)
ax.set_xscale("log")
ax.set_yscale("log")

gray_pts = (gray_a + gray_b + gray_c + gray_d + gray_e + gray_f + gray_g + gray_h
            + gray_i + gray_j + gray_k + gray_l)
green_pts = green_a + green_b + green_c + green_d + green_e + green_f

sns.scatterplot(x=[p[0] for p in gray_pts], y=[p[1] for p in gray_pts], ax=ax,
                color="gray", s=3, linewidth=0, edgecolor="none", zorder=2)
sns.scatterplot(x=[p[0] for p in green_pts], y=[p[1] for p in green_pts], ax=ax,
                color="g", s=9, linewidth=0, edgecolor="none", zorder=3)
sns.lineplot(x=barrier_d, y=barrier_p, ax=ax, color="k", linestyle="--", linewidth=1,
             sort=False, estimator=None, zorder=4)

for name, d, p, c, m in zip(obj_names, obj_diam, obj_period, obj_color, obj_marker):
    size = 26 if m == "D" else 35
    sns.scatterplot(x=[d], y=[p], ax=ax, color=c, marker=m, s=size, linewidth=0,
                    edgecolor="none", label=name, zorder=5)

ax.set_xlim(0.05, 30)
ax.set_ylim(30, 0.05)
ax.set_xlabel("Diameter (km)", fontsize=12)
ax.set_ylabel("Period (hr)", fontsize=12)
ax.tick_params(axis="both", which="major", labelsize=10)

ax.legend(loc="upper right", frameon=False, fontsize=6, labelspacing=0.46, scatterpoints=1)

ax2 = ax.twinx()
ax2.set_yscale("log")
ax2.set_ylim(24 / 30, 24 / 0.05)
ax2.set_ylabel("Spin Rate (rev/day)", fontsize=8.3)
ax2.yaxis.set_label_coords(1.068, 0.4725)
ax2.tick_params(axis="y", which="major", labelsize=10)

fig.savefig("out.png", dpi=150)
